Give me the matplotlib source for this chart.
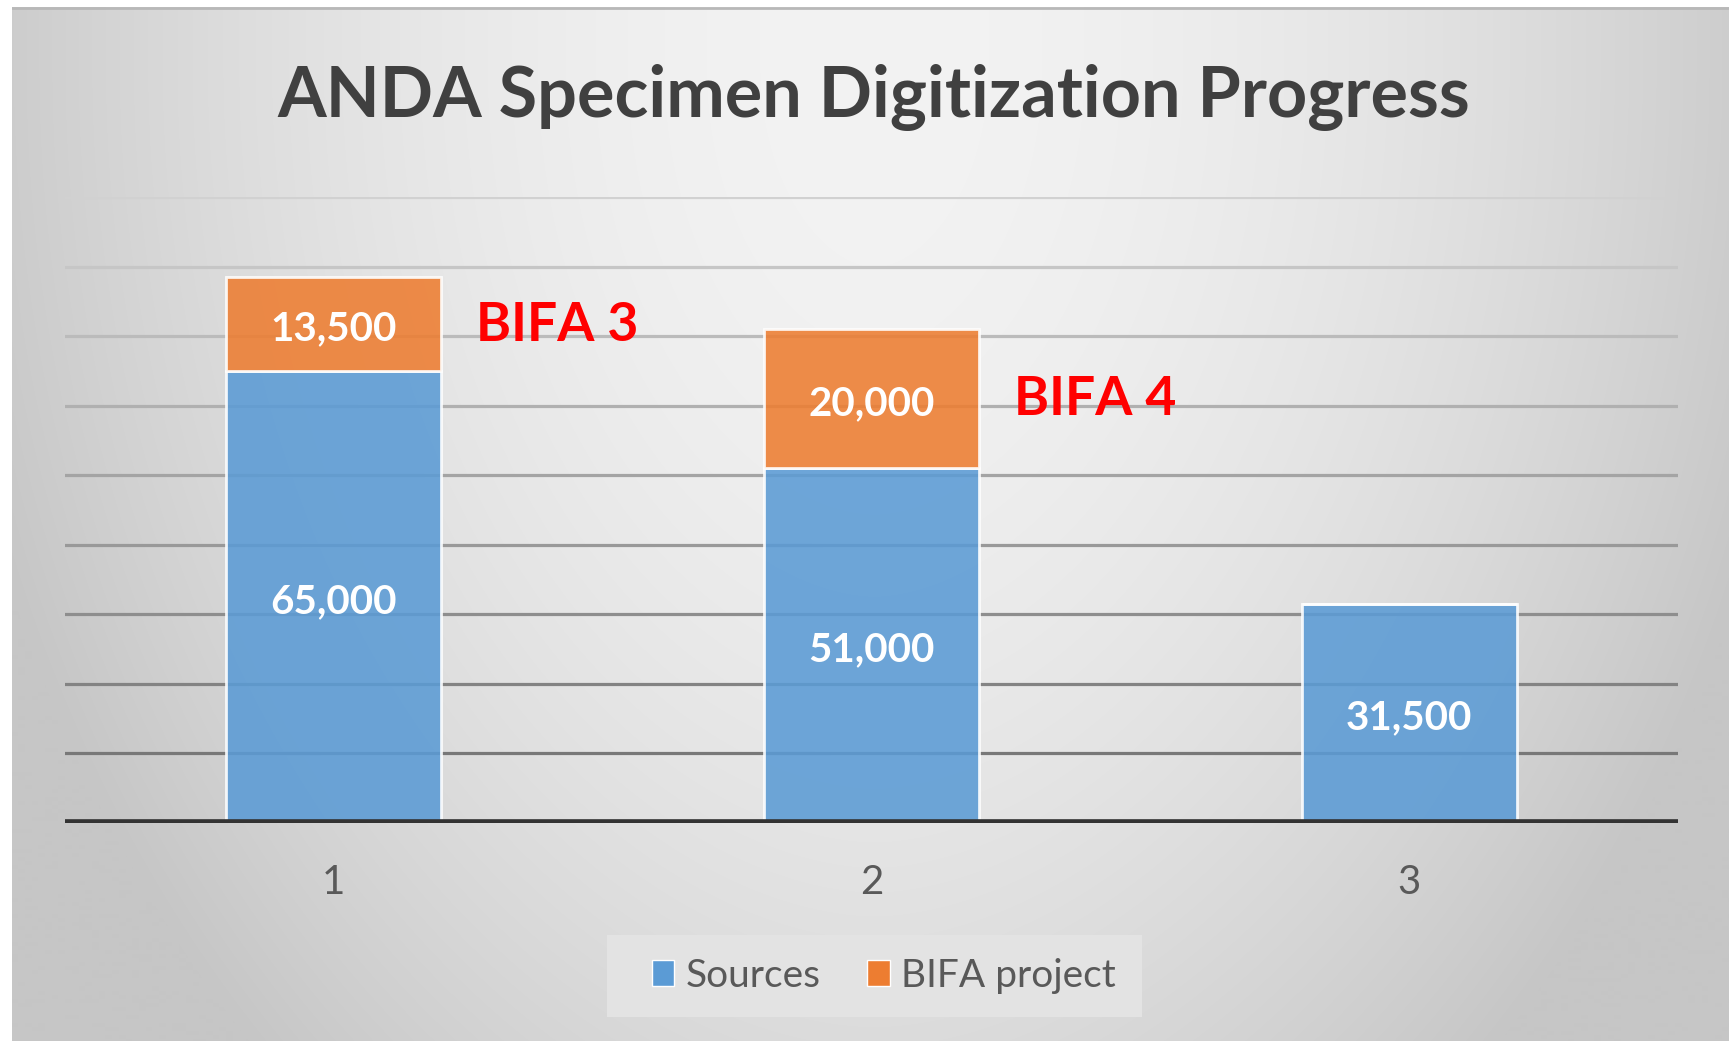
import numpy as np
import matplotlib
matplotlib.use("Agg")
import matplotlib.pyplot as plt
from matplotlib.patches import Rectangle, Patch

categories = ["1", "2", "3"]
sources = [65000, 51000, 31500]
bifa = [13500, 20000, 0]
bifa_notes = ["BIFA 3", "BIFA 4", ""]

plt.rcParams["font.family"] = ["Lato", "DejaVu Sans"]

W, H = 1729, 1041
fig = plt.figure(figsize=(W / 100, H / 100), dpi=100)
fig.patch.set_facecolor("white")

# grey gradient background, lighter at the top centre
bg = fig.add_axes([12 / W, 0, 1 - 12 / W, (H - 7) / H])
yy, xx = np.mgrid[0:1034, 0:1717]
dx = np.abs(xx - 862) / 860.0
dy = np.clip(yy - 60, 0, None) / 1000.0
drop = np.minimum(45, 38 * dx ** 1.8 + 25 * dy ** 2)
shade = 243 - drop
img = np.dstack([shade, shade, shade]) / 255.0
bg.imshow(img, aspect="auto", interpolation="bilinear")
bg.axis("off")
bg.plot([0, 1716], [1, 1], color="#b8b8b8", lw=2)
bg.set_xlim(0, 1716)
bg.set_ylim(1033, 0)

ax = fig.add_axes([65 / W, (H - 823) / H, 1613 / W, 626 / H])
ax.set_facecolor("none")
x = np.arange(len(categories))

blue = "#5b9bd5"
orange = "#ed7d31"
ax.bar(x, sources, width=0.4, color=blue, alpha=0.88, edgecolor="white", linewidth=2, zorder=3, label="Sources")
ax.bar(x, bifa, bottom=sources, width=0.4, color=orange, alpha=0.88, edgecolor="white", linewidth=2, zorder=3, label="BIFA project")

ax.set_xlim(-0.5, 2.5)
ax.set_ylim(0, 90000)
ticks = np.arange(10000, 90001, 10000)
greys = np.linspace(0.47, 0.82, len(ticks))
for t, g in zip(ticks, greys):
    ax.axhline(t, color=(g, g, g), lw=2.3, zorder=1)
ax.axhline(0, color="#333333", lw=5.5, zorder=4)

for i in range(len(categories)):
    ax.annotate(f"{sources[i]:,}", (x[i], sources[i] / 2), xytext=(0, -3.3), textcoords="offset points",
                ha="center", va="center", color="white", fontsize=29, fontweight="bold", zorder=5)
    if bifa[i] > 0:
        mid = sources[i] + bifa[i] / 2
        ax.annotate(f"{bifa[i]:,}", (x[i], mid), xytext=(0, -3.3), textcoords="offset points",
                    ha="center", va="center", color="white", fontsize=29, fontweight="bold", zorder=5)
        ax.text(x[i] + 0.265, mid - 2400, bifa_notes[i], ha="left", va="baseline",
                color="#ff0000", fontsize=38.5, fontweight="bold", zorder=5)

ax.set_xticks(x)
ax.set_xticklabels(categories)
ax.set_yticks([])
ax.tick_params(axis="x", length=0, pad=29.5, labelsize=29, labelcolor="#595959")
for s in ax.spines.values():
    s.set_visible(False)

fig.text(874 / W, 1 - 117 / H, "ANDA Specimen Digitization Progress", ha="center", va="baseline",
         fontsize=50.5, fontweight="bold", color="#404040")

# legend box
fig.patches.append(Rectangle((607 / W, 1 - 1017 / H), 535 / W, 82 / H, transform=fig.transFigure,
                             facecolor="#e3e3e3", edgecolor="none", zorder=0))
handles = [Patch(facecolor=blue, edgecolor="white", lw=1), Patch(facecolor=orange, edgecolor="white", lw=1)]
fig.legend(handles, ["Sources", "BIFA project"], loc="center", bbox_to_anchor=(884 / W, 1 - 976 / H),
           ncol=2, frameon=False, fontsize=28, handlelength=0.57, handleheight=0.65,
           handletextpad=0.3, columnspacing=1.2, labelcolor="#595959")

fig.savefig("out.png", dpi=100)
